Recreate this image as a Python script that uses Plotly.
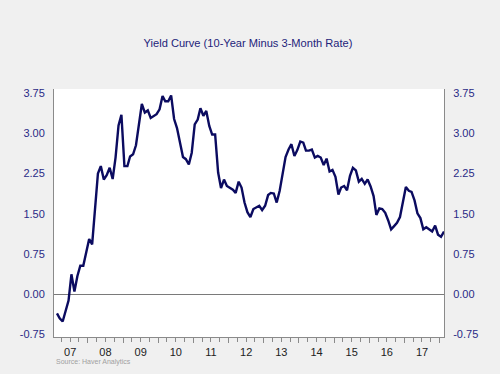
import plotly.graph_objects as go
import pandas as pd

# Monthly spread, Jan 2007 .. Jan 2018 (percentage points)
values = [
    -0.36, -0.45, -0.51, -0.31, -0.12, 0.37, 0.05, 0.34, 0.53, 0.53, 0.80, 1.03,   # 2007
    0.93, 1.58, 2.25, 2.39, 2.14, 2.22, 2.36, 2.15, 2.55, 3.15, 3.35, 2.39,       # 2008
    2.39, 2.57, 2.61, 2.78, 3.13, 3.55, 3.39, 3.43, 3.29, 3.33, 3.36, 3.45,       # 2009
    3.70, 3.60, 3.60, 3.71, 3.27, 3.10, 2.85, 2.56, 2.52, 2.42, 2.64, 3.17,       # 2010
    3.26, 3.47, 3.33, 3.42, 3.14, 2.98, 2.98, 2.27, 1.98, 2.14, 2.02, 1.98,       # 2011
    1.95, 1.89, 2.10, 1.99, 1.71, 1.53, 1.44, 1.59, 1.62, 1.65, 1.57, 1.65,       # 2012
    1.85, 1.89, 1.88, 1.71, 1.93, 2.27, 2.56, 2.70, 2.80, 2.58, 2.69, 2.85,       # 2013
    2.83, 2.68, 2.68, 2.70, 2.55, 2.58, 2.55, 2.41, 2.53, 2.29, 2.32, 2.19,       # 2014
    1.86, 1.99, 2.02, 1.94, 2.21, 2.36, 2.31, 2.10, 2.15, 2.06, 2.14, 2.01,       # 2015
    1.83, 1.48, 1.60, 1.59, 1.52, 1.38, 1.21, 1.27, 1.33, 1.44, 1.70, 2.00,       # 2016
    1.93, 1.91, 1.75, 1.51, 1.42, 1.21, 1.25, 1.20, 1.17, 1.28, 1.11, 1.07,       # 2017
    1.17,                                                                          # 2018
]
dates = pd.date_range("2007-01-15", periods=len(values), freq="MS") + pd.Timedelta(days=14)
y_ticks = [-0.75, 0.00, 0.75, 1.50, 2.25, 3.00, 3.75]
y_labels = ["-0.75", "0.00", "0.75", "1.50", "2.25", "3.00", "3.75"]
title_text = "Yield Curve (10-Year Minus 3-Month Rate)"
source_text = "Source: Haver Analytics"

FONT = "Liberation Sans, Arial, sans-serif"
NAVY = "#2a2a86"
AXIS = "#8a8a8a"

fig = go.Figure()
fig.add_trace(go.Scatter(x=dates, y=values, mode="lines",
                         line=dict(color="#0b0b60", width=2.4),
                         hoverinfo="x+y", showlegend=False))
# invisible copy so the right axis is drawn
fig.add_trace(go.Scatter(x=dates, y=values, mode="lines", yaxis="y2",
                         line=dict(color="rgba(0,0,0,0)", width=0),
                         hoverinfo="skip", showlegend=False))

yr = [-0.80, 3.83]
fig.update_layout(
    width=500, height=374,
    margin=dict(l=54, r=56, t=89, b=37),
    paper_bgcolor="#f0f0f0", plot_bgcolor="#ffffff",
    font=dict(family=FONT),
    title=dict(text=title_text, x=0.496, xanchor="center", y=0.886, yanchor="middle",
               font=dict(size=11.1, color="#23237a", family=FONT)),
    xaxis=dict(type="date", range=["2007-01-15", "2018-02-15"],
               tick0="2007-01-01", dtick="M12", tickformat="%y",
               ticklabelmode="period", ticks="outside", ticklen=5,
               tickcolor=AXIS, showline=True, linecolor=AXIS, linewidth=1,
               showgrid=False, zeroline=False,
               tickfont=dict(size=11, color="#222222", family=FONT),
               minor=dict(dtick="M3", ticks="outside", ticklen=4, tickcolor=AXIS,
                          showgrid=False)),
    yaxis=dict(range=yr, tickvals=y_ticks, ticktext=y_labels, ticks="",
               showline=True, linecolor=AXIS, linewidth=1, showgrid=False,
               zeroline=True, zerolinecolor="#7a7a7a", zerolinewidth=1,
               tickfont=dict(size=11, color=NAVY, family=FONT), ticklabelstandoff=6),
    yaxis2=dict(range=yr, tickvals=y_ticks, ticktext=y_labels, ticks="",
                overlaying="y", side="right",
                showline=True, linecolor=AXIS, linewidth=1, showgrid=False,
                zeroline=False,
                tickfont=dict(size=11, color=NAVY, family=FONT), ticklabelstandoff=6),
)
fig.add_annotation(text=source_text, xref="paper", yref="paper", x=0.0, y=-0.1,
                   xanchor="left", yanchor="middle", showarrow=False,
                   font=dict(size=7, color="#a0a0a0", family=FONT))

fig.write_html("out.html", config={"displayModeBar": False},
               post_script="document.body.style.margin='0';document.body.style.background='#f0f0f0';")
